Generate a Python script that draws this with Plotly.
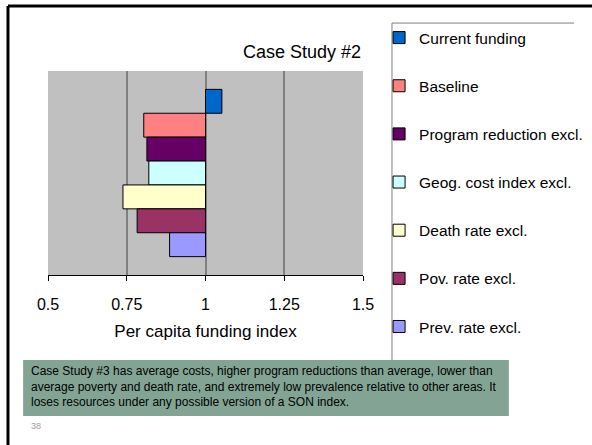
import plotly.graph_objects as go

# series shown in the legend, top to bottom
series = ["Current funding", "Baseline", "Program reduction excl.",
          "Geog. cost index excl.", "Death rate excl.", "Pov. rate excl.",
          "Prev. rate excl."]
index_values = [1.052, 0.804, 0.814, 0.820, 0.738, 0.783, 0.886]
colors = ["#0066CC", "#FF8080", "#660066", "#CCFFFF", "#FFFFCC", "#993366", "#9999FF"]
category = ["Case Study #2"]
tick_vals = [0.5, 0.75, 1, 1.25, 1.5]
tick_text = ["0.5", "0.75", "1", "1.25", "1.5"]

note = ("Case Study #3 has average costs, higher program reductions than average, lower than<br>"
        "average poverty and death rate, and extremely low prevalence relative to other areas. It<br>"
        "loses resources under any possible version of a SON index.")

FONT = "Liberation Sans, Arial, sans-serif"

fig = go.Figure()

# bars start at 1 (the axis crossing), so draw them as offsets from a base of 1
for name, val, col in zip(series, index_values, colors):
    fig.add_trace(go.Bar(
        y=category, x=[val - 1], base=1, orientation="h", name=name,
        legendgroup=name,
        marker=dict(color=col, line=dict(color="black", width=1)),
    ))

fig.add_vline(x=1, line=dict(color="black", width=1), layer="below")

fig.update_layout(
    width=592, height=445,
    margin=dict(l=48, r=229, t=71, b=170, autoexpand=False),
    paper_bgcolor="white",
    plot_bgcolor="#C0C0C0",
    barmode="group", bargap=0.18, bargroupgap=0,
    font=dict(family=FONT, color="black"),
    showlegend=True,
    legend=dict(
        x=1.051, y=1.245, xanchor="left", yanchor="top",
        traceorder="grouped", tracegroupgap=25, maxheight=420,
        font=dict(size=15.5, family=FONT),
        bgcolor="rgba(0,0,0,0)",
    ),
    xaxis=dict(
        range=[0.5, 1.5], tickvals=tick_vals, ticktext=tick_text,
        showgrid=True, gridcolor="#808080", gridwidth=2,
        zeroline=False, showline=True, linecolor="black", linewidth=1,
        ticks="outside", ticklen=5, tickcolor="black",
        ticklabelstandoff=10,
        tickfont=dict(size=16),
        title=dict(text="Per capita funding index", font=dict(size=17), standoff=12),
    ),
    # reversed so the first series sits at the top of the group
    yaxis=dict(autorange="reversed", showticklabels=False, showgrid=False,
               zeroline=False, showline=False),
)

shapes = [
    # slide frame
    dict(type="line", xref="paper", yref="paper", x0=-0.127, x1=1.73, y0=1.319, y1=1.319,
         line=dict(color="black", width=3)),
    dict(type="line", xref="paper", yref="paper", x0=-0.127, x1=-0.127, y0=1.319, y1=-0.84,
         line=dict(color="black", width=3)),
    # legend box edges
    dict(type="line", xref="paper", yref="paper", x0=1.092, x1=1.092, y0=1.235, y1=-0.417,
         line=dict(color="#808080", width=1)),
    dict(type="line", xref="paper", yref="paper", x0=1.092, x1=1.670, y0=1.235, y1=1.235,
         line=dict(color="#808080", width=1)),
    # note box
    dict(type="rect", xref="paper", yref="paper", x0=-0.079, x1=1.463, y0=-0.691, y1=-0.417,
         fillcolor="#83A494", line=dict(width=0), layer="above"),
]
for s in shapes:
    fig.add_shape(**s)

fig.add_annotation(text="Case Study #2", xref="paper", yref="paper", x=0.806, y=1.152,
                   xanchor="center", showarrow=False, font=dict(size=18))
fig.add_annotation(text=note, xref="paper", yref="paper", x=-0.060, y=-0.428,
                   xanchor="left", yanchor="top", align="left", showarrow=False,
                   font=dict(size=12, color="black"))
fig.add_annotation(text="38", xref="paper", yref="paper", x=-0.060, y=-0.775,
                   xanchor="left", showarrow=False, font=dict(size=9, color="#A0A0A0"))

# drop the page's default body margin so the figure sits at the window's top-left
fig.write_html("out.html", config={"displayModeBar": False},
               post_script="document.body.style.margin='0';")
